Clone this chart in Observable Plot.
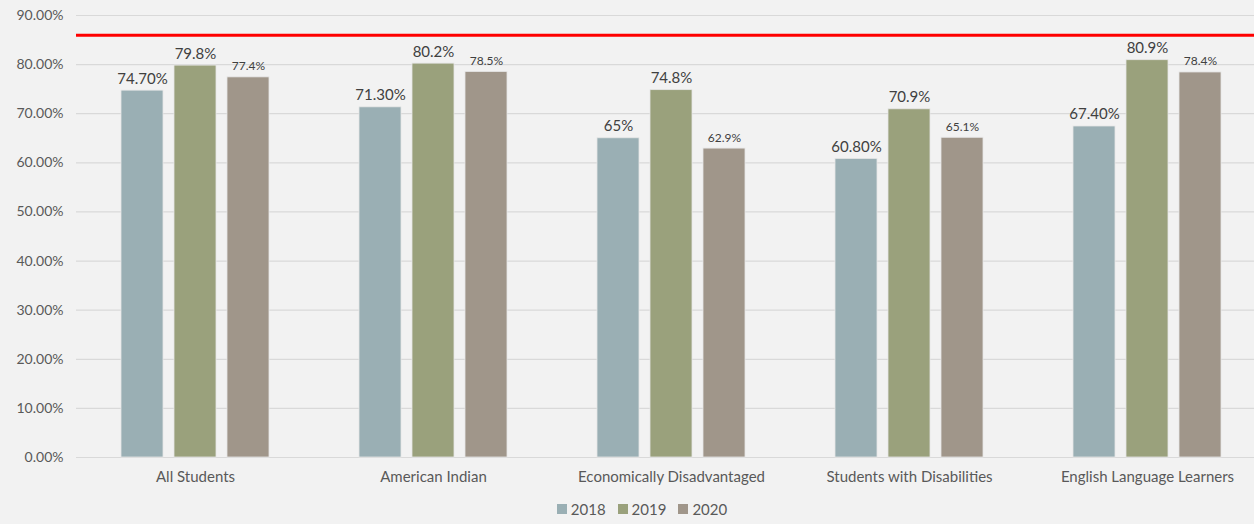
<!DOCTYPE html>
<html>
<head>
<meta charset="utf-8">
<script src="https://cdn.jsdelivr.net/npm/d3@7"></script>
<script src="https://cdn.jsdelivr.net/npm/@observablehq/plot@0.6"></script>
<style>
  html, body { margin: 0; padding: 0; background: #f2f2f2; }
  #chart { width: 1254px; height: 524px; position: relative; font-family: Lato, "Open Sans", sans-serif; color: #595959; }
  .legend { display: flex; justify-content: center; gap: 12px; font-size: 15px; color: #595959; margin-top: 4px; margin-left: 30px; }
  .legend span.item { display: inline-flex; align-items: center; gap: 4px; }
  .legend span.sw { width: 10px; height: 10px; display: inline-block; }
</style>
</head>
<body>
<div id="chart"></div>
<script>
const groups = ["All Students", "American Indian", "Economically Disadvantaged", "Students with Disabilities", "English Language Learners"];
const years = ["2018", "2019", "2020"];
const values2018 = [74.7, 71.3, 65.0, 60.8, 67.4];
const values2019 = [79.8, 80.2, 74.8, 70.9, 80.9];
const values2020 = [77.4, 78.5, 62.9, 65.1, 78.4];
const labels2018 = ["74.70%", "71.30%", "65%", "60.80%", "67.40%"];
const labels2019 = ["79.8%", "80.2%", "74.8%", "70.9%", "80.9%"];
const labels2020 = ["77.4%", "78.5%", "62.9%", "65.1%", "78.4%"];
const target = 86;
const yTicks = [0, 10, 20, 30, 40, 50, 60, 70, 80, 90];
const colors = ["#9aafb4", "#9aa17c", "#a0968a"];

const rows = [];
const series = [values2018, values2019, values2020];
const labs = [labels2018, labels2019, labels2020];
groups.forEach((g, i) => {
  years.forEach((y, j) => {
    rows.push({group: g, year: y, value: series[j][i], label: labs[j][i]});
  });
});

const plot = Plot.plot({
  width: 1254,
  height: 496,
  marginTop: 15,
  marginBottom: 39,
  marginLeft: 73,
  marginRight: 0,
  style: {background: "#f2f2f2", fontFamily: "Lato, 'Open Sans', sans-serif", color: "#595959", fontSize: "14px"},
  fx: {domain: groups, range: [76, 1266], paddingInner: 0, paddingOuter: 0, label: null},
  x: {domain: years, paddingInner: 11 / 53, paddingOuter: 0.849, axis: null},
  y: {domain: [0, 90], label: null},
  color: {domain: years, range: colors},
  marks: [
    Plot.ruleY(yTicks, {stroke: "#d9d9d9", strokeWidth: 1.2}),
    Plot.axisY({ticks: yTicks, tickFormat: d => d.toFixed(2) + "%", tickSize: 0, tickPadding: 13, fontSize: 14, label: null}),
    Plot.axisFx({anchor: "bottom", tickSize: 0, tickPadding: 14, fontSize: 15, label: null}),
    Plot.barY(rows, {fx: "group", x: "year", y: "value", fill: "year", stroke: "#e6e6e6", strokeWidth: 0.8}),
    Plot.ruleY([target], {stroke: "#ff0000", strokeWidth: 3}),
    Plot.text(rows.filter(d => d.year !== "2020"), {fx: "group", x: "year", y: "value", text: "label", lineAnchor: "bottom", dy: -7, fontSize: 15, fill: "#404040"}),
    Plot.text(rows.filter(d => d.year === "2020"), {fx: "group", x: "year", y: "value", text: "label", lineAnchor: "bottom", dy: -7, fontSize: 12, fill: "#404040"})
  ]
});
const chart = document.getElementById("chart");
chart.appendChild(plot);

const legend = document.createElement("div");
legend.className = "legend";
years.forEach((y, j) => {
  const item = document.createElement("span");
  item.className = "item";
  const sw = document.createElement("span");
  sw.className = "sw";
  sw.style.background = colors[j];
  item.appendChild(sw);
  item.appendChild(document.createTextNode(y));
  legend.appendChild(item);
});
chart.appendChild(legend);
</script>
</body>
</html>
